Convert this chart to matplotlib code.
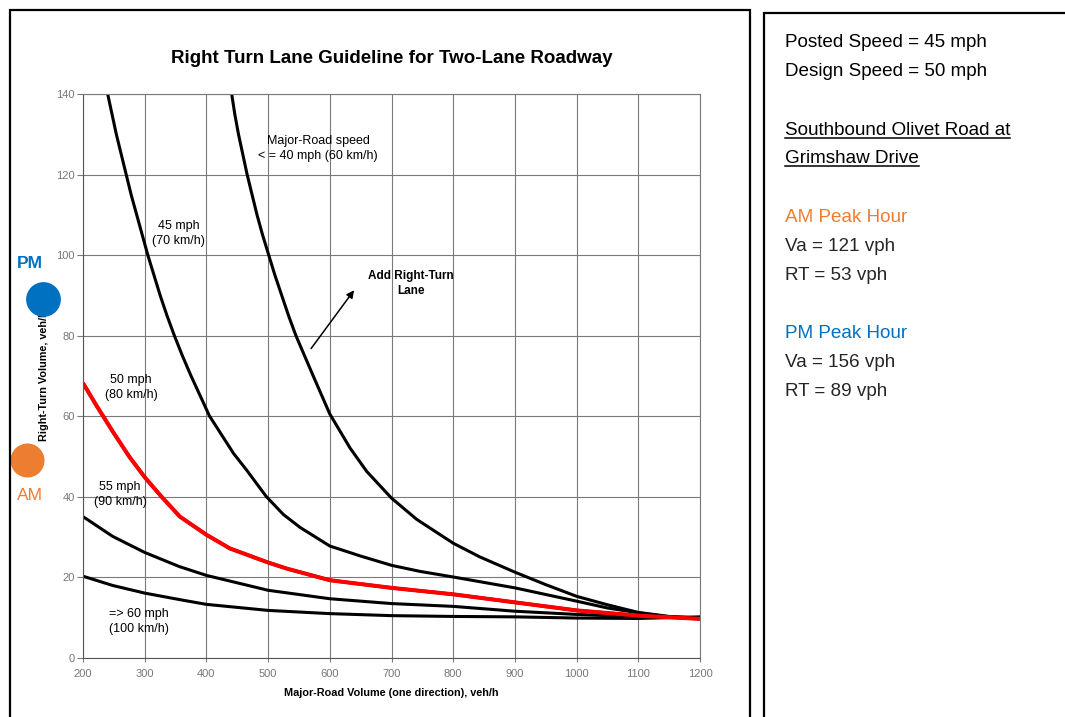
import matplotlib
matplotlib.use("Agg")
import matplotlib.pyplot as plt
from matplotlib import font_manager
from matplotlib.patches import Rectangle
from matplotlib.lines import Line2D

# curve data (major-road volume, right-turn volume)
vol_40 = [441, 446, 452, 459, 466, 474, 482, 491, 501, 511, 522, 533, 545, 559, 573, 600,
          633, 660, 700, 741, 800, 843, 900, 950, 1000, 1050, 1100, 1150, 1200]
rt_40 = [140, 135, 130, 125, 120, 115, 110, 105, 100, 95, 90, 85, 80, 75, 70, 60.5,
         52.0, 46.2, 39.6, 34.3, 28.4, 25.0, 21.2, 18.1, 15.2, 13.1, 11.2, 10.2, 9.8]

vol_45 = [240, 247, 254, 262, 270, 278, 287, 296, 305, 315, 325, 336, 348, 361, 375, 405,
          444, 465, 497, 525, 552, 600, 650, 700, 746, 800, 900, 1000, 1050, 1100, 1150, 1200]
rt_45 = [140, 135, 130, 125, 120, 115, 110, 105, 100, 95, 90, 85, 80, 75, 70, 60,
         50.7, 46.6, 40.0, 35.5, 32.3, 27.7, 25.2, 22.9, 21.4, 20.0, 17.3, 14.0, 12.3, 11.1, 10.1, 9.8]

vol_50 = [200, 221, 248, 275, 300, 327, 357, 400, 438, 500, 530, 600, 700, 800, 900, 1000, 1100, 1200]
rt_50 = [68.2, 62.8, 56.2, 49.9, 44.8, 40.0, 35.0, 30.5, 27.1, 23.6, 22.1, 19.2, 17.3, 15.7, 13.7,
         11.7, 10.4, 9.6]

vol_55 = [200, 248, 300, 356, 400, 500, 600, 700, 800, 900, 1000, 1100, 1200]
rt_55 = [35.0, 30.1, 26.1, 22.6, 20.4, 16.7, 14.6, 13.4, 12.7, 11.5, 10.7, 10.1, 9.8]

vol_60 = [200, 248, 300, 356, 400, 500, 600, 700, 800, 900, 1000, 1100, 1200]
rt_60 = [20.2, 17.9, 16.0, 14.4, 13.2, 11.7, 10.9, 10.4, 10.2, 10.1, 9.8, 9.7, 10.1]

# study intersection points as placed on the chart
am_point = (109, 49)
pm_point = (135, 89)

x_ticks = list(range(200, 1201, 100))
y_ticks = list(range(0, 141, 20))

info_lines = [
    ("Posted Speed = 45 mph", "black", False),
    ("Design Speed = 50 mph", "black", False),
    ("Southbound Olivet Road at", "black", True),
    ("Grimshaw Drive", "black", True),
    ("AM Peak Hour", "#ED7D31", False),
    ("Va = 121 vph", "#262626", False),
    ("RT = 53 vph", "#262626", False),
    ("PM Peak Hour", "#0070C0", False),
    ("Va = 156 vph", "#262626", False),
    ("RT = 89 vph", "#262626", False),
]
info_baselines = [47, 76, 135, 163, 222, 251, 280, 338, 367, 396]

ORANGE = "#ED7D31"
BLUE = "#0070C0"

names = {f.name for f in font_manager.fontManager.ttflist}
narrow = "Liberation Sans Narrow" if "Liberation Sans Narrow" in names else "Liberation Sans"
narrow_size = 16.5 if narrow == "Liberation Sans Narrow" else 13.6

plt.rcParams["font.family"] = ["Liberation Sans", "DejaVu Sans"]

W, H = 1065, 717
fig = plt.figure(figsize=(W / 100, H / 100), dpi=100)


def fx(px):
    return px / W


def fy(py):
    return 1 - py / H


# two framed panels
fig.patches.append(Rectangle((fx(10), fy(730)), fx(750) - fx(10), fy(9.5) - fy(730),
                             transform=fig.transFigure, fill=False, ec="black", lw=1.6))
fig.patches.append(Rectangle((fx(763.5), fy(730)), fx(1075) - fx(763.5), fy(13) - fy(730),
                             transform=fig.transFigure, fill=False, ec="black", lw=1.6))

ax = fig.add_axes([fx(83), fy(657.5), fx(700) - fx(83), fy(94) - fy(657.5)])
ax.set_xlim(200, 1200)
ax.set_ylim(0, 140)
ax.set_xticks(x_ticks)
ax.set_yticks(y_ticks)
ax.grid(True, color="#7a7a7a", lw=0.8)
ax.set_axisbelow(True)
for s in ax.spines.values():
    s.set_color("#7a7a7a")
    s.set_linewidth(0.8)
ax.spines["left"].set_color("#555555")
ax.spines["bottom"].set_color("#555555")
ax.tick_params(axis="both", colors="#7a7a7a", labelsize=8, length=4, width=0.8, labelcolor="#777777")
ax.tick_params(axis="x", length=3, pad=5)
ax.tick_params(axis="y", pad=2)

line_kw = dict(solid_capstyle="butt", solid_joinstyle="round")
ax.plot(vol_40, rt_40, color="black", lw=2.2, **line_kw)
ax.plot(vol_45, rt_45, color="black", lw=2.2, **line_kw)
ax.plot(vol_55, rt_55, color="black", lw=2.2, **line_kw)
ax.plot(vol_60, rt_60, color="black", lw=2.2, **line_kw)
ax.plot(vol_50, rt_50, color="black", lw=2.4, **line_kw)
ax.plot(vol_50, rt_50, color="#FF0000", lw=2.9, **line_kw)

lab = dict(fontsize=9, ha="center", va="center", linespacing=1.35)
ax.text(581, 126.4, "Major-Road speed\n< = 40 mph (60 km/h)", **lab)
ax.text(355, 105.3, "45 mph\n(70 km/h)", **lab)
ax.text(278, 67, "50 mph\n(80 km/h)", **lab)
ax.text(260, 40.4, "55 mph\n(90 km/h)", **lab)
ax.text(291, 8.9, "=> 60 mph\n(100 km/h)", **lab)
ax.text(732, 93, "Add Right-Turn\nLane", fontsize=8.5, fontweight="bold", ha="center",
        va="center", linespacing=1.35)
ax.annotate("", xy=(642, 91.8), xytext=(567, 76.2),
            arrowprops=dict(arrowstyle="-|>", color="black", lw=1.1, mutation_scale=11))

ax.set_title("Right Turn Lane Guideline for Two-Lane Roadway", fontsize=13.5,
             fontweight="bold", pad=22)
ax.set_xlabel("Major-Road Volume (one direction), veh/h", fontsize=7.8, fontweight="bold",
              labelpad=7)
ax.set_ylabel("Right-Turn Volume, veh/h", fontsize=7.8, fontweight="bold", labelpad=5)

ax.plot(*pm_point, "o", ms=24, color=BLUE, clip_on=False, zorder=10)
ax.plot(*am_point, "o", ms=23.5, color=ORANGE, clip_on=False, zorder=10)

fig.text(fx(30), fy(263), "PM", color=BLUE, fontsize=12.5, fontweight="bold",
         ha="center", va="center", family=[narrow, "DejaVu Sans"])
fig.text(fx(30), fy(496), "AM", color=ORANGE, fontsize=12.5,
         ha="center", va="center", family=[narrow, "DejaVu Sans"])

info_texts = []
for (txt, col, under), base in zip(info_lines, info_baselines):
    t = fig.text(fx(785), fy(base), txt, color=col, fontsize=narrow_size,
                 ha="left", va="baseline", family=[narrow, "DejaVu Sans"])
    info_texts.append((t, under, base))

fig.canvas.draw()
renderer = fig.canvas.get_renderer()
for t, under, base in info_texts:
    if under:
        bb = t.get_window_extent(renderer)
        yline = fy(base + 2.5)
        fig.add_artist(Line2D([bb.x0 / W, bb.x1 / W], [yline, yline],
                              transform=fig.transFigure, color="black", lw=1.1))

fig.savefig("out.png", dpi=100)
